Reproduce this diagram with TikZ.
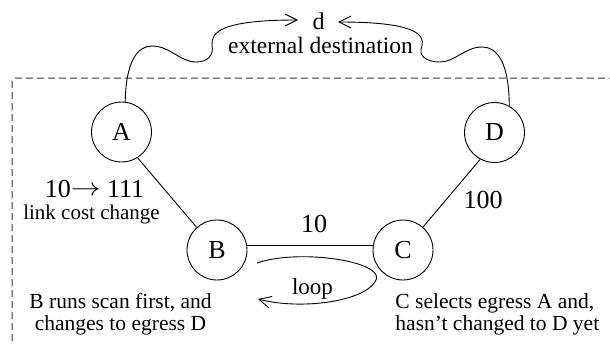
\documentclass[tikz,border=0pt]{standalone}
\usepackage{fontspec}
\setmainfont{Liberation Serif}
\usetikzlibrary{arrows.meta}
\begin{document}
\begin{tikzpicture}[x=1pt,y=-1pt, line width=0.9pt,
  router/.style={draw, circle, minimum size=60pt, inner sep=0pt, font=\fontsize{26}{30}\selectfont},
  lbl/.style={inner sep=0pt},
  barb/.style={-{Straight Barb[length=12pt,width=12pt,line width=0.9pt]}},
  region/.style={draw=black!78, line width=1pt, dash pattern=on 7pt off 4pt, rounded corners=3pt}
]
\useasboundingbox (0,0) rectangle (610,345);
% dashed region
\draw[region] (12,78) rectangle (630,365);
% routers
\node[router] (A) at (121.5,132) {A};
\node[router] (B) at (217,250) {B};
\node[router] (C) at (403,250) {C};
\node[router] (D) at (494.5,132.5) {D};
% destination
\node[lbl, font=\fontsize{24}{28}\selectfont] (d) at (318.5,21) {d};
\node[lbl, font=\fontsize{23.5}{28}\selectfont] (ext) at (320.5,45.5) {external destination};
\coordinate (dl) at (298,20);
\coordinate (dr) at (338,22);
% links
\draw (A.-58) -- (B.132);
\draw (B.8) -- (C.172);
\draw (C.49) -- (D.-118);
% paths to destination
\draw[barb] (A.83) .. controls (126,60) and (138,46) .. (152,46)
  .. controls (170,46) and (180,62) .. (196,62)
  .. controls (208,62) and (214,55) .. (212,45)
  .. controls (211,32) and (222,20) .. (dl);
\draw[barb] (D.61) .. controls (509,62) and (497,47) .. (482,47)
  .. controls (465,47) and (455,62) .. (440,62)
  .. controls (425,62) and (418,55) .. (422,46)
  .. controls (425,34) and (414,22) .. (dr);
% labels
\node[lbl, font=\fontsize{26}{30}\selectfont] (c1) at (94.5,189) {10\raisebox{2.5pt}{\scalebox{1.2}[1]{$\rightarrow$}} 111};
\node[lbl, font=\fontsize{21}{24}\selectfont] (c2) at (91.5,214) {link cost change};
\node[lbl, font=\fontsize{26}{30}\selectfont] (w1) at (314,224) {10};
\node[lbl, font=\fontsize{26}{30}\selectfont] (w2) at (483,200) {100};
\node[lbl, font=\fontsize{23}{26}\selectfont] (lp) at (312.5,289) {loop};
\node[lbl, font=\fontsize{21.5}{22}\selectfont, align=center] (tb) at (120.5,314) {B runs scan first, and\\changes to egress D};
\node[lbl, font=\fontsize{21.5}{22}\selectfont, align=left, anchor=west] (tc) at (395,314) {C selects egress A and,\\hasn’t changed to D yet};
% loop arrow
\coordinate (ls) at (257,263);
\coordinate (le) at (258,299);
\draw[barb] (ls) .. controls (300,248) and (390,262) .. (375,282)
  .. controls (362,302) and (300,310) .. (le);
\end{tikzpicture}
\end{document}
